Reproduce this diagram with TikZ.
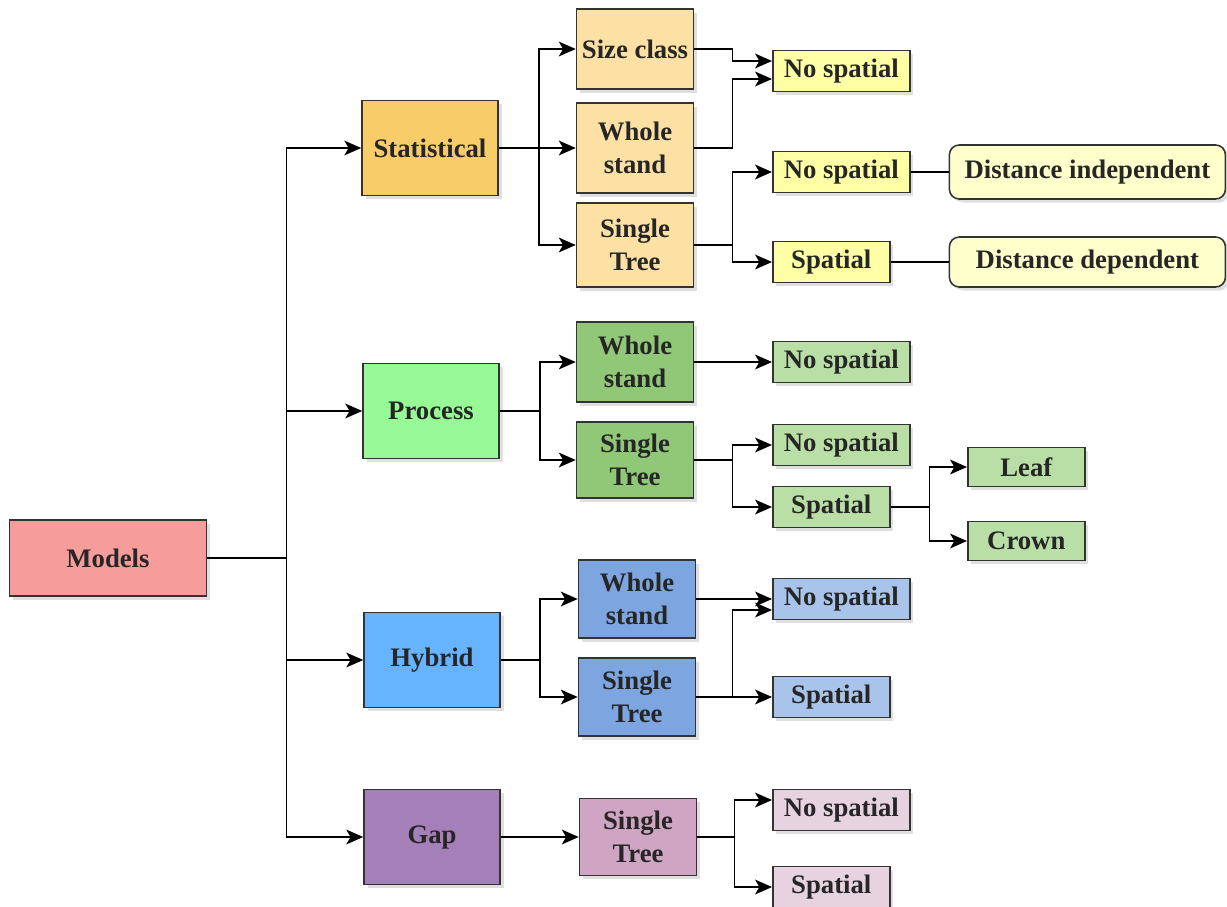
\documentclass[tikz,border=0pt]{standalone}
\usepackage{fontspec}
\setmainfont{Liberation Serif}
\usetikzlibrary{positioning, arrows.meta, calc, shadows}
\definecolor{model-red}{HTML}{F69C9A}
\definecolor{stat-orange}{HTML}{F9CC6A}
\definecolor{stat-light}{HTML}{FDE0A3}
\definecolor{stat-yellow}{HTML}{FFFFA6}
\definecolor{dist-yellow}{HTML}{FFFFCC}
\definecolor{proc-green}{HTML}{97FA97}
\definecolor{proc-mid}{HTML}{90C878}
\definecolor{proc-light}{HTML}{B9DFA6}
\definecolor{hyb-blue}{HTML}{66B3FF}
\definecolor{hyb-mid}{HTML}{7DA6E0}
\definecolor{hyb-light}{HTML}{A9C4EB}
\definecolor{gap-purple}{HTML}{A57FB7}
\definecolor{gap-mid}{HTML}{CFA5C3}
\definecolor{gap-light}{HTML}{E7D2DF}
\tikzset{
  box/.style={draw=black!80, line width=1.1pt, align=center, inner sep=2pt,
    text=black!85, font=\bfseries\fontsize{19}{23}\selectfont,
    drop shadow={shadow xshift=2.5pt, shadow yshift=-2.5pt, opacity=0.25}},
  rootbox/.style={box, fill=model-red, minimum width=4.925cm, minimum height=1.9cm},
  kindbox/.style={box, minimum width=3.4cm, minimum height=2.375cm},
  subbox/.style={box, minimum width=2.925cm, minimum height=2cm},
  endbox/.style={box, anchor=west, minimum height=1.025cm},
  nsbox/.style={endbox, minimum width=3.425cm},
  spbox/.style={endbox, minimum width=2.925cm},
  distbox/.style={box, anchor=west, fill=dist-yellow, rounded corners=7pt,
    minimum width=6.9cm, minimum height=1.35cm},
  arr/.style={-{Stealth[length=12pt, width=10.5pt, inset=3pt]}, line width=1.1pt},
  link/.style={line width=1.1pt}
}
\begin{document}
\begin{tikzpicture}[x=0.025cm, y=-0.025cm]
\useasboundingbox (0,0) rectangle (1227,906);
% root and model kinds
\node[rootbox] (models) at (108,558) {Models};
\node[kindbox, fill=stat-orange] (stat) at (430,148) {Statistical};
\node[kindbox, fill=proc-green] (proc) at (431,411) {Process};
\node[kindbox, fill=hyb-blue] (hyb) at (432,660) {Hybrid};
\node[kindbox, fill=gap-purple] (gap) at (432,837) {Gap};
% statistical
\node[subbox, fill=stat-light] (szc) at (635,49) {Size class};
\node[subbox, fill=stat-light, minimum height=2.25cm] (swh) at (635,148) {Whole\\stand};
\node[subbox, fill=stat-light, minimum height=2.1cm] (sst) at (635,245) {Single\\Tree};
\node[nsbox, fill=stat-yellow] (sns) at (772,71) {No spatial};
\node[nsbox, fill=stat-yellow] (sns2) at (772,172) {No spatial};
\node[spbox, fill=stat-yellow] (ssp) at (772,262) {Spatial};
\node[distbox, right=0.95cm of sns2] (dind) {Distance independent};
\node[distbox, right=1.45cm of ssp, minimum height=1.25cm] (ddep) {Distance dependent};
% process
\node[subbox, fill=proc-mid] (pwh) at (635,362) {Whole\\stand};
\node[subbox, fill=proc-mid, minimum height=1.9cm] (pst) at (635,460) {Single\\Tree};
\node[nsbox, fill=proc-light] (pns1) at (772,362) {No spatial};
\node[nsbox, fill=proc-light] (pns2) at (772,445) {No spatial};
\node[spbox, fill=proc-light] (psp) at (772,507) {Spatial};
\node[spbox, fill=proc-light, minimum height=0.975cm] (leaf) at (967,467) {Leaf};
\node[spbox, fill=proc-light, minimum height=0.975cm] (crown) at (967,541) {Crown};
% hybrid
\node[subbox, fill=hyb-mid, minimum height=1.95cm] (hwh) at (637,599) {Whole\\stand};
\node[subbox, fill=hyb-mid, minimum height=1.95cm] (hst) at (637,697) {Single\\Tree};
\node[nsbox, fill=hyb-light] (hns) at (772,599) {No spatial};
\node[spbox, fill=hyb-light] (hsp) at (772,697) {Spatial};
% gap
\node[subbox, fill=gap-mid, minimum height=1.925cm] (gst) at (638,837) {Single\\Tree};
\node[nsbox, fill=gap-light] (gns) at (772,810) {No spatial};
\node[spbox, fill=gap-light] (gsp) at (772,887) {Spatial};

% connectors
\draw[arr] (models.east) -- ++(79,0) |- (stat.west);
\draw[arr] (models.east) -- ++(79,0) |- (proc.west);
\draw[arr] (models.east) -- ++(79,0) |- (hyb.west);
\draw[arr] (models.east) -- ++(79,0) |- (gap.west);

\draw[arr] (stat.east) -- ++(40,0) |- (szc.west);
\draw[arr] (stat.east) -- ++(40,0) |- (swh.west);
\draw[arr] (stat.east) -- ++(40,0) |- (sst.west);
\draw[arr] (szc.east) -- ++(38,0) |- ($(sns.west)+(0,-10)$);
\draw[arr] (swh.east) -- ++(38,0) |- ($(sns.west)+(0,8)$);
\draw[arr] (sst.east) -- ++(38,0) |- (sns2.west);
\draw[arr] (sst.east) -- ++(38,0) |- (ssp.west);
\draw[link] (sns2.east) -- (dind.west);
\draw[link] (ssp.east) -- (ddep.west);

\draw[arr] (proc.east) -- ++(40,0) |- (pwh.west);
\draw[arr] (proc.east) -- ++(40,0) |- (pst.west);
\draw[arr] (pwh.east) -- (pns1.west);
\draw[arr] (pst.east) -- ++(38,0) |- (pns2.west);
\draw[arr] (pst.east) -- ++(38,0) |- (psp.west);
\draw[arr] (psp.east) -- ++(39,0) |- (leaf.west);
\draw[arr] (psp.east) -- ++(39,0) |- (crown.west);

\draw[arr] (hyb.east) -- ++(39,0) |- (hwh.west);
\draw[arr] (hyb.east) -- ++(39,0) |- (hst.west);
\draw[arr] (hwh.east) -- (hns.west);
\draw[arr] (hst.east) -- ++(36,0) |- ($(hns.west)+(0,11)$);
\draw[arr] (hst.east) -- (hsp.west);

\draw[arr] (gap.east) -- (gst.west);
\draw[arr] (gst.east) -- ++(37,0) |- ($(gns.west)+(0,-10)$);
\draw[arr] (gst.east) -- ++(37,0) |- (gsp.west);
\end{tikzpicture}
\end{document}
